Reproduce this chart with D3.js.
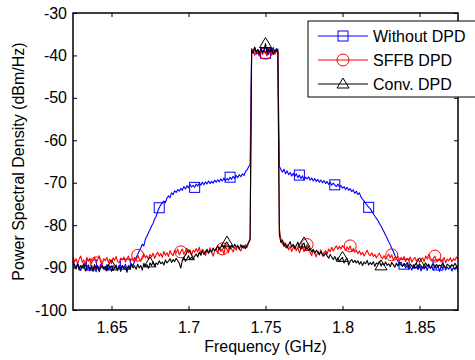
<!DOCTYPE html>
<html>
<head>
<meta charset="utf-8">
<script src="https://cdn.jsdelivr.net/npm/d3@7"></script>
<style>
html,body{margin:0;padding:0;background:#fff;}
svg{display:block;font-family:"Liberation Sans",Arial,sans-serif;}
</style>
</head>
<body>
<svg id="chart" width="475" height="360"></svg>
<script>
// Frequency grid: 1.625 .. 1.875 GHz, step 0.001 (251 points)
const freqStart = 1.625, freqStep = 0.001;

const withoutDPD = [
-88.4,-89.3,-90.1,-89.0,-89.8,-90.7,-89.5,-90.2,-89.1,-90.6,
-89.9,-90.8,-89.4,-90.3,-89.7,-91.0,-89.6,-90.4,-89.2,-90.1,
-89.8,-90.6,-89.3,-90.5,-89.7,-90.9,-89.5,-90.2,-89.9,-90.7,
-89.4,-90.3,-89.6,-90.0,-89.2,-90.4,-89.5,-89.9,-89.1,-89.6,
-88.4,-87.6,-86.9,-86.1,-85.4,-84.5,-84.9,-83.3,-82.6,-81.8,
-81.1,-80.2,-79.6,-78.5,-77.9,-76.8,-75.9,-75.2,-74.8,-74.3,
-74.7,-73.6,-73.1,-73.5,-72.4,-72.8,-71.9,-72.3,-71.6,-72.0,
-71.3,-71.8,-70.9,-71.5,-70.7,-71.2,-70.4,-71.0,-70.6,-71.1,
-70.3,-70.8,-70.1,-70.6,-69.9,-70.5,-69.8,-70.3,-69.6,-70.2,
-69.7,-70.1,-69.4,-69.9,-69.3,-69.8,-69.1,-69.6,-68.9,-69.5,
-69.0,-69.4,-68.7,-69.2,-68.5,-69.0,-68.3,-68.8,-68.1,-68.6,
-67.9,-68.3,-67.4,-67.0,-66.3,-65.8,
-38.4,-39.3,-38.0,-39.7,-38.6,-39.9,-38.3,-39.1,-38.7,-39.5,-38.2,-39.8,-38.5,-39.2,-38.1,-39.6,-38.4,-39.0,
-66.1,-66.9,-67.5,-66.8,-67.9,-67.2,-68.1,-67.6,-68.4,-67.8,
-68.5,-67.9,-68.8,-68.2,-69.0,-68.4,-69.3,-68.7,-69.1,-68.6,
-69.4,-68.9,-69.6,-69.0,-69.7,-69.2,-69.9,-69.4,-70.0,-69.5,
-70.2,-69.7,-70.4,-69.9,-70.6,-70.1,-70.5,-70.9,-70.3,-71.0,
-70.7,-71.3,-70.9,-71.6,-71.1,-71.8,-71.4,-72.1,-71.7,-72.5,
-72.0,-72.8,-72.4,-73.4,-73.9,-74.3,-74.9,-75.3,-75.8,-76.1,
-76.7,-77.3,-77.9,-78.4,-78.9,-79.6,-80.2,-80.9,-81.6,-82.4,
-83.1,-83.9,-84.6,-85.5,-86.2,-87.1,-87.8,-88.5,-89.1,-88.7,
-89.6,-89.2,-90.1,-89.5,-90.4,-89.8,-90.6,-89.3,-90.2,-89.7,
-90.5,-89.4,-90.8,-89.9,-90.3,-89.6,-90.7,-89.5,-90.1,-89.8,
-90.6,-89.7,-90.3,-89.4,-90.9,-89.8,-90.2,-89.5,-90.6,-89.9,
-90.4,-89.6,-90.8,-90.0,-90.5,-89.7,-91.0
];

const sffbDPD = [
-87.4,-88.6,-87.9,-89.1,-88.0,-87.3,-88.8,-88.2,-89.3,-87.6,
-88.5,-87.8,-89.0,-88.3,-87.5,-88.9,-88.1,-87.2,-88.7,-89.2,
-87.9,-88.4,-87.6,-88.8,-88.0,-89.1,-87.7,-88.3,-87.4,-88.6,
-88.9,-87.8,-88.2,-87.5,-88.7,-88.0,-87.3,-88.5,-87.9,-88.4,
-87.6,-88.3,-87.1,-87.9,-88.5,-87.4,-86.8,-87.7,-87.2,-88.1,
-86.9,-87.5,-86.6,-87.8,-87.0,-86.4,-87.3,-86.7,-87.6,-86.2,
-87.1,-86.5,-87.4,-86.0,-86.8,-87.2,-85.9,-86.6,-85.7,-87.0,
-86.3,-85.6,-86.9,-86.1,-85.4,-86.5,-85.8,-87.1,-85.9,-86.4,
-85.5,-86.3,-85.2,-86.8,-85.7,-86.1,-87.2,-85.9,-86.6,-85.3,
-86.4,-87.3,-86.0,-85.4,-86.7,-85.1,-86.2,-85.6,-86.9,-85.0,
-85.8,-86.5,-84.9,-85.7,-86.3,-85.2,-85.9,-84.7,-85.6,-86.1,
-84.8,-85.5,-84.6,-85.3,-84.2,-83.5,
-39.1,-38.5,-40.0,-38.9,-39.6,-40.2,-38.7,-39.8,-39.0,-39.5,-40.1,-38.8,-39.4,-39.9,-38.6,-39.7,-39.2,-38.9,
-80.8,-83.2,-84.5,-84.0,-85.3,-84.6,-85.8,-85.0,-86.2,-85.4,
-84.8,-86.0,-85.2,-86.5,-85.6,-84.9,-86.3,-85.5,-84.6,-85.1,
-86.4,-87.2,-85.9,-86.7,-87.5,-86.1,-86.9,-85.8,-87.3,-86.4,
-86.0,-86.8,-85.6,-86.3,-85.2,-86.1,-85.4,-84.9,-85.7,-85.0,
-85.6,-84.8,-85.3,-86.0,-85.1,-85.8,-84.9,-86.2,-85.5,-86.4,
-85.9,-86.7,-86.1,-87.0,-86.4,-87.3,-86.6,-85.9,-86.8,-87.2,
-86.5,-87.4,-86.9,-87.7,-87.1,-86.6,-87.5,-87.9,-87.2,-88.0,
-87.4,-86.8,-87.7,-87.0,-88.2,-87.5,-87.9,-87.3,-88.4,-87.6,
-88.1,-87.4,-88.6,-87.8,-88.3,-87.5,-88.7,-88.0,-87.6,-88.5,
-87.9,-88.8,-88.2,-87.7,-88.6,-87.3,-88.0,-86.9,-87.6,-88.4,
-87.8,-87.3,-88.4,-88.2,-87.9,-88.7,-88.1,-87.6,-88.9,-88.0,
-88.4,-87.7,-88.6,-87.9,-88.3,-87.5,-88.1
];

const convDPD = [
-88.6,-89.7,-90.3,-89.2,-90.6,-89.5,-90.1,-89.0,-90.8,-89.9,
-89.4,-90.5,-89.8,-90.9,-89.3,-90.2,-89.6,-91.0,-90.0,-89.5,
-90.4,-89.7,-90.8,-89.2,-90.1,-89.6,-90.7,-90.0,-89.4,-90.5,
-89.8,-90.9,-89.5,-90.3,-89.9,-91.1,-89.7,-90.4,-89.3,-90.1,
-89.6,-90.4,-89.2,-90.1,-89.5,-90.6,-89.0,-89.8,-89.3,-90.2,
-88.9,-89.5,-88.6,-89.7,-88.9,-89.3,-88.4,-89.1,-88.7,-89.4,
-88.2,-88.9,-88.5,-87.9,-88.8,-88.1,-88.6,-87.8,-88.4,-89.0,
-90.1,-88.3,-87.6,-88.5,-87.9,-87.2,-88.1,-87.5,-88.0,-87.3,
-86.8,-87.5,-86.4,-87.1,-86.0,-86.9,-86.3,-85.7,-86.6,-85.9,
-86.4,-85.4,-86.1,-85.6,-84.9,-85.8,-85.2,-84.6,-85.5,-84.3,
-84.0,-84.7,-85.6,-84.8,-85.3,-84.5,-85.2,-84.9,-85.7,-84.6,
-85.3,-84.8,-85.5,-84.7,-84.1,-83.2,
-38.8,-39.5,-38.2,-39.1,-38.6,-39.7,-38.4,-39.3,-38.9,-37.2,-39.6,-38.5,-39.2,-38.3,-39.8,-38.7,-39.0,-38.5,
-82.3,-84.1,-83.5,-85.0,-84.3,-85.4,-84.6,-83.9,-85.2,-84.5,
-85.6,-84.8,-84.0,-85.1,-85.7,-84.6,-84.2,-85.9,-85.3,-86.0,
-85.4,-86.3,-85.7,-86.6,-85.9,-86.4,-87.0,-86.2,-86.8,-87.3,
-86.5,-87.2,-87.8,-86.9,-87.5,-88.1,-87.4,-88.3,-87.7,-88.6,
-88.0,-87.6,-88.9,-88.2,-87.8,-89.4,-88.5,-88.1,-88.8,-88.3,
-88.9,-88.4,-89.2,-88.6,-89.5,-88.7,-89.1,-88.3,-89.4,-88.8,
-89.3,-88.6,-89.7,-88.9,-89.2,-88.5,-89.6,-89.0,-89.4,-88.7,
-89.5,-89.1,-89.8,-88.8,-89.3,-89.9,-89.0,-89.6,-88.9,-89.4,
-89.7,-89.0,-89.5,-88.8,-89.9,-89.2,-89.6,-90.1,-89.3,-89.0,
-89.8,-89.1,-89.6,-90.0,-89.4,-88.9,-89.7,-89.2,-90.2,-89.5,
-89.1,-89.8,-89.3,-90.0,-89.4,-89.7,-88.9,-89.6,-90.1,-89.2,
-89.5,-89.9,-89.3,-89.7,-89.0,-89.6,-90.3
];

// marker positions (indices into the series)
const withoutMarkers = [12,34,56,79,102,125,147,170,192,215,237];
const sffbMarkers = [15,42,70,97,125,152,180,207,235];
const convMarkers = [25,50,75,100,125,150,175,200,225];

const xTicks = [1.65,1.7,1.75,1.8,1.85];
const yTicks = [-100,-90,-80,-70,-60,-50,-40,-30];
const legendLabels = ["Without DPD","SFFB DPD","Conv. DPD"];
const seriesColors = ["#0000ff","#ff0000","#000000"];
const markerTypes = ["square","circle","triangle"];

const svg = d3.select("#chart");
const m = {left:73, top:13, right:458, bottom:310};

const x = d3.scaleLinear().domain([1.625,1.875]).range([m.left,m.right]);
const y = d3.scaleLinear().domain([-100,-30]).range([m.bottom,m.top]);

const series = [withoutDPD, sffbDPD, convDPD].map((vals,i)=>({
  name: legendLabels[i], color: seriesColors[i], marker: markerTypes[i],
  markers: [withoutMarkers,sffbMarkers,convMarkers][i],
  points: vals.map((v,k)=>({f: freqStart + k*freqStep, v}))
}));

svg.append("clipPath").attr("id","clip").append("rect")
  .attr("x",m.left).attr("y",m.top).attr("width",m.right-m.left).attr("height",m.bottom-m.top);

const line = d3.line().x(d=>x(d.f)).y(d=>y(d.v));

function drawMarker(g, type, cx, cy, color){
  if(type==="square"){
    g.append("rect").attr("x",cx-5).attr("y",cy-5).attr("width",10).attr("height",10)
      .attr("fill","none").attr("stroke",color).attr("stroke-width",1);
  } else if(type==="circle"){
    g.append("circle").attr("cx",cx).attr("cy",cy).attr("r",6)
      .attr("fill","none").attr("stroke",color).attr("stroke-width",1);
  } else {
    g.append("path").attr("d",`M${cx},${cy-6}L${cx+6},${cy+4}L${cx-6},${cy+4}Z`)
      .attr("fill","none").attr("stroke",color).attr("stroke-width",1);
  }
}

const plot = svg.append("g").attr("clip-path","url(#clip)");
series.forEach(s=>{
  plot.append("path").datum(s.points).attr("d",line)
    .attr("fill","none").attr("stroke",s.color).attr("stroke-width",1.1)
    .attr("stroke-linejoin","round");
  const mg = plot.append("g");
  s.markers.forEach(k=>{
    const p = s.points[k];
    drawMarker(mg, s.marker, x(p.f), y(p.v), s.color);
  });
});

// axes
const axB = d3.axisBottom(x).tickValues(xTicks).tickSize(-4).tickPadding(12).tickFormat(d=>String(d));
const axT = d3.axisTop(x).tickValues(xTicks).tickSize(-4).tickFormat("");
const axL = d3.axisLeft(y).tickValues(yTicks).tickSize(-4).tickPadding(6).tickFormat(d=>String(d));
const axR = d3.axisRight(y).tickValues(yTicks).tickSize(-4).tickFormat("");

function style(g){
  g.select(".domain").remove();
  g.selectAll("line").attr("stroke","#000");
  g.selectAll("text").attr("fill","#000").style("font-size","16px")
   .style("font-family","'Liberation Sans',Arial,sans-serif");
}
svg.append("g").attr("transform",`translate(0,${m.bottom})`).call(axB).call(style);
svg.append("g").attr("transform",`translate(0,${m.top})`).call(axT).call(style);
svg.append("g").attr("transform",`translate(${m.left},0)`).call(axL).call(style);
svg.append("g").attr("transform",`translate(${m.right},0)`).call(axR).call(style);

svg.append("rect").attr("x",m.left).attr("y",m.top).attr("width",m.right-m.left).attr("height",m.bottom-m.top)
  .attr("fill","none").attr("stroke","#000").attr("stroke-width",1.5);

// axis labels
svg.append("text").attr("x",(m.left+m.right)/2).attr("y",352)
  .attr("text-anchor","middle").style("font-size","16px").text("Frequency (GHz)");
svg.append("text").attr("transform",`translate(24,${(m.top+m.bottom)/2}) rotate(-90)`)
  .attr("text-anchor","middle").style("font-size","16px").text("Power Spectral Density (dBm/Hz)");

// legend
const lg = svg.append("g");
lg.append("rect").attr("x",308).attr("y",21).attr("width",170).attr("height",76)
  .attr("fill","#fff").attr("stroke","#000").attr("stroke-width",1);
series.forEach((s,i)=>{
  const yy = 36 + i*24;
  lg.append("line").attr("x1",318).attr("x2",368).attr("y1",yy).attr("y2",yy)
    .attr("stroke",s.color).attr("stroke-width",1);
  drawMarker(lg, s.marker, 343, yy, s.color);
  lg.append("text").attr("x",373).attr("y",yy+6).style("font-size","16px").attr("fill","#000").text(s.name);
});
</script>
</body>
</html>
